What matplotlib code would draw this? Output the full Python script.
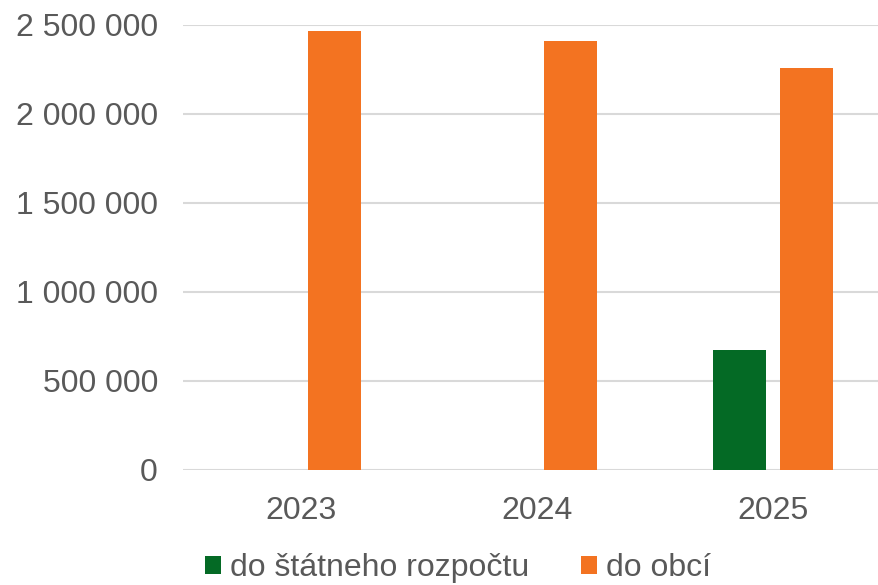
import matplotlib.pyplot as plt
import numpy as np
from matplotlib.ticker import FuncFormatter

years = ['2023', '2024', '2025']
statny = [0, 0, 674000]
obce = [2461000, 2410000, 2258000]
series_names = ['do štátneho rozpočtu', 'do obcí']

GREEN = '#046A25'
ORANGE = '#F37321'
TXT = '#595959'

plt.rcParams['font.family'] = ['Liberation Sans', 'DejaVu Sans']

fig = plt.figure(figsize=(8.79, 5.85), dpi=100)
ax = fig.add_axes([183 / 879, 1 - 469.5 / 585, 708 / 879, 445 / 585])

x = np.arange(len(years))
w = 0.2246
off = 0.142
b1 = ax.bar(x - off, statny, w, color=GREEN, label=series_names[0], zorder=3)
b2 = ax.bar(x + off, obce, w, color=ORANGE, label=series_names[1], zorder=3)

ax.set_xlim(-0.5, 2.5)
ax.set_ylim(0, 2500000)
ax.set_yticks(np.arange(0, 2500001, 500000))
ax.yaxis.set_major_formatter(FuncFormatter(lambda v, p: f'{int(v):,}'.replace(',', ' ')))
ax.set_xticks(x)
ax.set_xticklabels(years)

ax.grid(axis='y', color='#D9D9D9', linewidth=1.5, zorder=0)
for s in ax.spines.values():
    s.set_visible(False)
ax.tick_params(axis='both', length=0, labelsize=23, colors=TXT)
ax.tick_params(axis='y', pad=18)
ax.tick_params(axis='x', pad=19)

fig.legend(handles=[b1, b2], loc='center', bbox_to_anchor=(458 / 879, 1 - 568 / 585),
           ncol=2, frameon=False, fontsize=23, labelcolor=TXT,
           handlelength=0.5, handleheight=0.5, handletextpad=0.28, columnspacing=1.6)

fig.savefig('out.png', dpi=100)
